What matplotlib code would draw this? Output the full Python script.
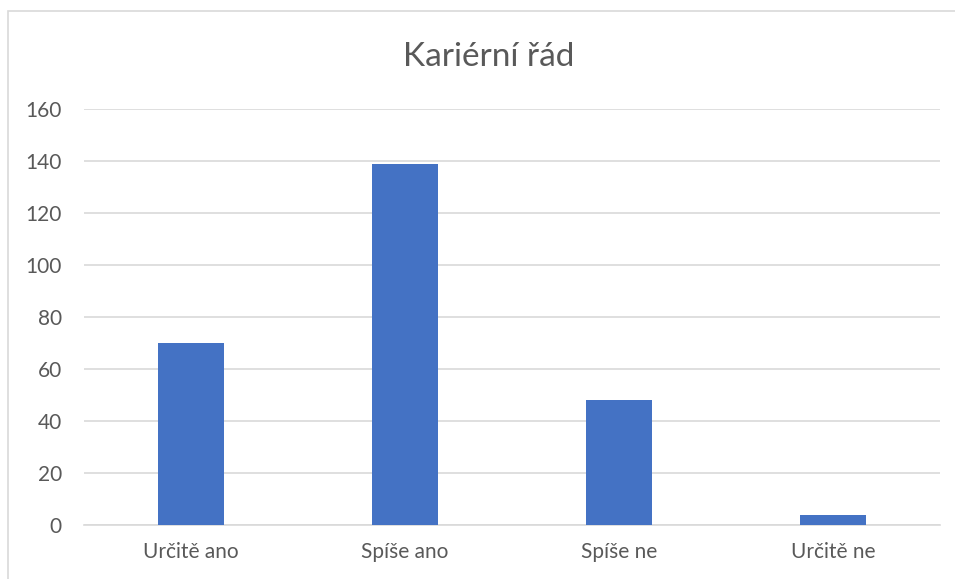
import matplotlib.pyplot as plt
import matplotlib.patches as mpatches
import numpy as np

plt.rcParams['font.family'] = ['Lato', 'DejaVu Sans']

kategorie = ['Určitě ano', 'Spíše ano', 'Spíše ne', 'Určitě ne']
hodnoty = [70, 139, 48, 4]

fig = plt.figure(figsize=(9.55, 5.79), dpi=100)
ax = fig.add_axes([84/955, 1-525/579, (940-84)/955, (525-109)/579])

# okraj grafu (vidět jen vlevo a nahoře)
fig.patches.append(mpatches.Rectangle((8/955, -0.1), 1.2, 1-11/579+0.1,
                                      transform=fig.transFigure, fill=False,
                                      edgecolor='#D9D9D9', linewidth=1.2))

x = np.arange(len(kategorie))
ax.bar(x, hodnoty, width=0.31, color='#4472C4', zorder=3)

ax.set_xlim(-0.5, len(kategorie) - 0.5)
ax.set_ylim(0, 160)
ax.set_yticks(np.arange(0, 161, 20))
ax.set_xticks(x)
ax.set_xticklabels(kategorie)
ax.yaxis.grid(True, color='#D9D9D9', linewidth=1.2, zorder=0)
for s in ['top', 'right', 'left']:
    ax.spines[s].set_visible(False)
ax.spines['bottom'].set_color('#D9D9D9')
ax.spines['bottom'].set_linewidth(1.2)
ax.tick_params(length=0, labelsize=15, labelcolor='#595959')
ax.tick_params(axis='y', pad=16)
ax.tick_params(axis='x', pad=12)

fig.text(489/955, 1-57/579, 'Kariérní řád', ha='center', va='center',
         fontsize=24, color='#595959')

fig.savefig('out.png', dpi=100)
